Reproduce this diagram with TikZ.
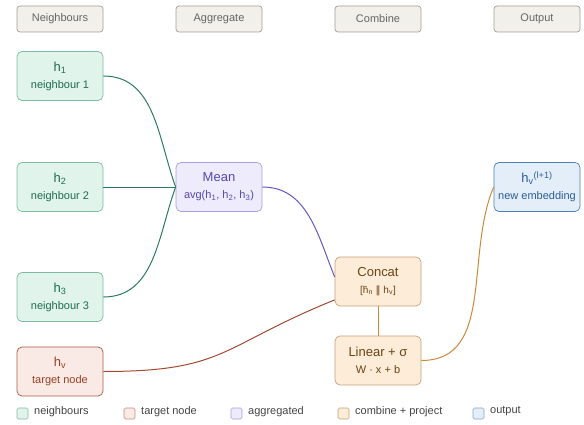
\documentclass[tikz,border=0pt]{standalone}
\usepackage{fontspec}
\setmainfont{Liberation Sans}
\newfontfamily\dejavu{DejaVu Sans}

\definecolor{headfill}{HTML}{F2F0EB}
\definecolor{headdraw}{HTML}{A39E96}
\definecolor{headtext}{HTML}{666666}
\definecolor{nbrfill}{HTML}{E1F4EC}
\definecolor{nbrdraw}{HTML}{7DBBA3}
\definecolor{nbrtext}{HTML}{1E6B52}
\definecolor{nbrlink}{HTML}{2D7A60}
\definecolor{tgtfill}{HTML}{FAEAE5}
\definecolor{tgtdraw}{HTML}{A85A45}
\definecolor{tgttext}{HTML}{9A3F25}
\definecolor{tgtlink}{HTML}{A04A35}
\definecolor{aggfill}{HTML}{EEECFC}
\definecolor{aggdraw}{HTML}{A99EE3}
\definecolor{aggtext}{HTML}{5647B0}
\definecolor{agglink}{HTML}{6557C2}
\definecolor{cmbfill}{HTML}{FCECD8}
\definecolor{cmbdraw}{HTML}{C8A07A}
\definecolor{cmbtext}{HTML}{6A4414}
\definecolor{cmblink}{HTML}{C98A3C}
\definecolor{outfill}{HTML}{E4EEF9}
\definecolor{outdraw}{HTML}{4F7FB3}
\definecolor{outtext}{HTML}{2D5D95}
\definecolor{keytext}{HTML}{444444}

\newcommand{\sublbl}[1]{{\fontsize{11}{13}\selectfont #1}}

\begin{document}
\begin{tikzpicture}[x=1pt, y=1pt,
  box/.style={rectangle, rounded corners=5pt, draw, line width=0.7pt,
    minimum width=86pt, minimum height=49pt, align=center, inner sep=2pt,
    font=\fontsize{13}{16}\selectfont},
  header/.style={rectangle, rounded corners=3pt, draw=headdraw, fill=headfill,
    line width=0.7pt, minimum width=86pt, minimum height=26pt, text=headtext,
    font=\fontsize{11}{13}\selectfont},
  nbr/.style={box, draw=nbrdraw, fill=nbrfill, text=nbrtext},
  tgt/.style={box, draw=tgtdraw, fill=tgtfill, text=tgttext},
  agg/.style={box, draw=aggdraw, fill=aggfill, text=aggtext},
  cmb/.style={box, draw=cmbdraw, fill=cmbfill, text=cmbtext},
  outp/.style={box, draw=outdraw, fill=outfill, text=outtext},
  link/.style={line width=1pt},
  key/.style={rectangle, rounded corners=1.5pt, draw, line width=0.6pt,
    minimum size=11pt, inner sep=0pt},
  keylbl/.style={anchor=west, inner sep=0pt, text=keytext,
    font=\fontsize{11}{13}\selectfont}
]
  \useasboundingbox (0,0) rectangle (584,424);

  \node[header] (hnbr) at (60,405) {Neighbours};
  \node[header] (hagg) at (219,405) {Aggregate};
  \node[header] (hcmb) at (378,405) {Combine};
  \node[header] (hout) at (537,405) {Output};

  \node[nbr] (h1) at (60,348) {h\textsubscript{1}\\[1pt] \sublbl{neighbour 1}};
  \node[nbr] (h2) at (60,237) {h\textsubscript{2}\\[1pt] \sublbl{neighbour 2}};
  \node[nbr] (h3) at (60,127) {h\textsubscript{3}\\[1pt] \sublbl{neighbour 3}};
  \node[tgt] (hv) at (60,52.5) {h\textsubscript{v}\\[1pt] \sublbl{target node}};

  \node[agg] (mean) at (219,237) {Mean\\[1pt] \sublbl{avg(h\textsubscript{1}, h\textsubscript{2}, h\textsubscript{3})}};
  \node[cmb] (concat) at (378,142.5) {Concat\\[1pt] {\fontsize{10}{12}\selectfont [h̄\textsubscript{n} {\dejavu ‖} h\textsubscript{v}]}};
  \node[cmb] (linear) at (378,63.5) {Linear + σ\\[1pt] \sublbl{W · x + b}};
  \node[outp] (newemb) at (537,237) {h\textsubscript{v}\textsuperscript{(l+1)}\\[1pt] \sublbl{new embedding}};

  \draw[link, nbrlink] (h1.east) to[out=0, in=110] (mean.west);
  \draw[link, nbrlink] (h2.east) -- (mean.west);
  \draw[link, nbrlink] (h3.east) to[out=0, in=250] (mean.west);
  \draw[link, agglink] (mean.east) to[out=0, in=112] (concat.174);
  \draw[link, tgtlink] (hv.east) to[out=0, in=202, looseness=1.3] (concat.203);
  \draw[link, cmblink] (concat.south) -- (linear.north);
  \draw[link, cmblink] (linear.east) to[out=0, in=247] (newemb.west);

  \node[key, draw=nbrdraw, fill=nbrfill] (knbr) at (22.5,10.5) {};
  \node[keylbl] (lnbr) at (34,12.5) {neighbours};
  \node[key, draw=tgtdraw!70, fill=tgtfill] (ktgt) at (129.5,10.5) {};
  \node[keylbl] (ltgt) at (141,12.5) {target node};
  \node[key, draw=aggdraw, fill=aggfill] (kagg) at (236.5,10.5) {};
  \node[keylbl] (lagg) at (248,12.5) {aggregated};
  \node[key, draw=cmbdraw, fill=cmbfill] (kcmb) at (343.5,10.5) {};
  \node[keylbl] (lcmb) at (355,12.5) {combine + project};
  \node[key, draw=outdraw!70, fill=outfill] (kout) at (478.5,10.5) {};
  \node[keylbl] (lout) at (490,12.5) {output};
\end{tikzpicture}
\end{document}
